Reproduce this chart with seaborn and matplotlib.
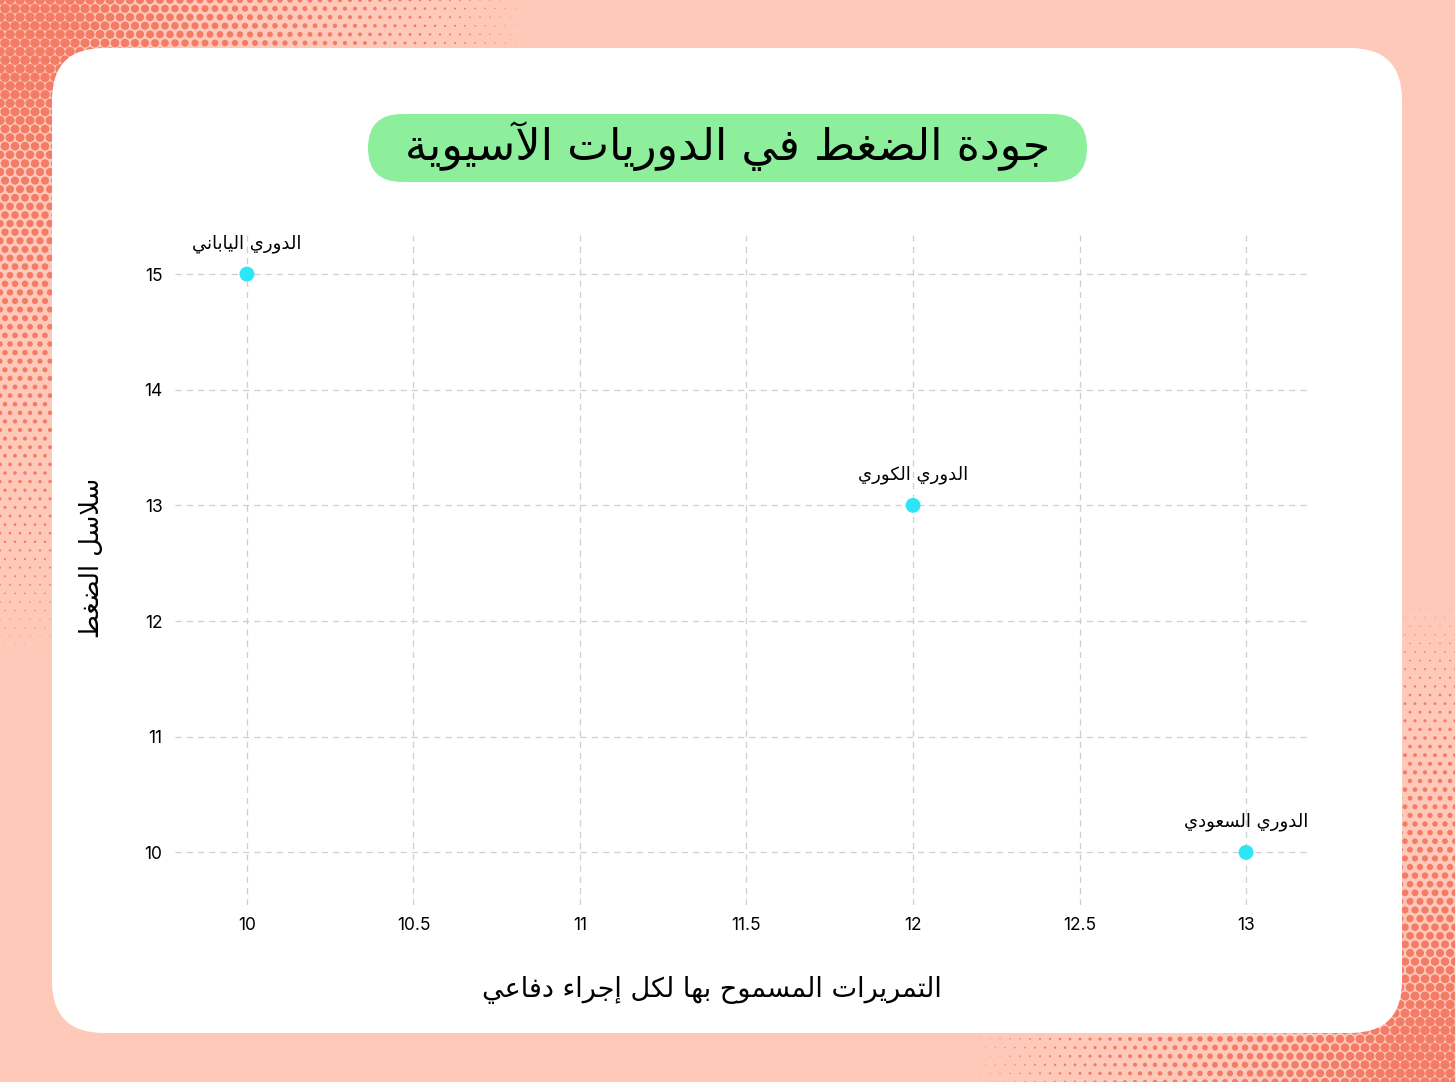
import numpy as np
import pandas as pd
import matplotlib
matplotlib.use("Agg")
import matplotlib.pyplot as plt
import seaborn as sns
from matplotlib.patches import FancyBboxPatch

# ---------------- data ----------------
leagues = ["الدوري الياباني", "الدوري الكوري", "الدوري السعودي"]
passes_allowed = [10, 12, 13]
press_sequences = [15, 13, 10]
x_ticks = [10, 10.5, 11, 11.5, 12, 12.5, 13]
x_tick_labels = ["10", "10.5", "11", "11.5", "12", "12.5", "13"]
y_ticks = [10, 11, 12, 13, 14, 15]
y_tick_labels = ["10", "11", "12", "13", "14", "15"]
title_text = "جودة الضغط في الدوريات الآسيوية"
x_label_text = "التمريرات المسموح بها لكل إجراء دفاعي"
y_label_text = "سلاسل الضغط"

# ---------------- minimal Arabic shaper ----------------
def _forms(start, n):
    return tuple(chr(start + i) for i in range(n))

_TABLE = [('\u0621', 0xFE80, 1), ('\u0622', 0xFE81, 2), ('\u0623', 0xFE83, 2),
          ('\u0624', 0xFE85, 2), ('\u0625', 0xFE87, 2), ('\u0626', 0xFE89, 4),
          ('\u0627', 0xFE8D, 2), ('\u0628', 0xFE8F, 4), ('\u0629', 0xFE93, 2),
          ('\u062A', 0xFE95, 4), ('\u062B', 0xFE99, 4), ('\u062C', 0xFE9D, 4),
          ('\u062D', 0xFEA1, 4), ('\u062E', 0xFEA5, 4), ('\u062F', 0xFEA9, 2),
          ('\u0630', 0xFEAB, 2), ('\u0631', 0xFEAD, 2), ('\u0632', 0xFEAF, 2),
          ('\u0633', 0xFEB1, 4), ('\u0634', 0xFEB5, 4), ('\u0635', 0xFEB9, 4),
          ('\u0636', 0xFEBD, 4), ('\u0637', 0xFEC1, 4), ('\u0638', 0xFEC5, 4),
          ('\u0639', 0xFEC9, 4), ('\u063A', 0xFECD, 4), ('\u0641', 0xFED1, 4),
          ('\u0642', 0xFED5, 4), ('\u0643', 0xFED9, 4), ('\u0644', 0xFEDD, 4),
          ('\u0645', 0xFEE1, 4), ('\u0646', 0xFEE5, 4), ('\u0647', 0xFEE9, 4),
          ('\u0648', 0xFEED, 2), ('\u0649', 0xFEEF, 2), ('\u064A', 0xFEF1, 4)]
FORMS = {c: _forms(s, n) for c, s, n in _TABLE}
LAM_ALEF = {'\u0622': 0xFEF5, '\u0623': 0xFEF7, '\u0625': 0xFEF9, '\u0627': 0xFEFB}


def shape(text):
    units = []
    i = 0
    while i < len(text):
        c = text[i]
        if c == '\u0644' and i + 1 < len(text) and text[i + 1] in LAM_ALEF:
            units.append(_forms(LAM_ALEF[text[i + 1]], 2))
            i += 2
        elif c in FORMS:
            units.append(FORMS[c])
            i += 1
        else:
            units.append(c)
            i += 1
    out = []
    for k, u in enumerate(units):
        if isinstance(u, str):
            out.append(u)
            continue
        prev = units[k - 1] if k > 0 else None
        nxt = units[k + 1] if k + 1 < len(units) else None
        jp = isinstance(prev, tuple) and len(prev) == 4 and len(u) >= 2
        jn = len(u) == 4 and isinstance(nxt, tuple) and len(nxt) >= 2
        if jp and jn:
            f = u[3]
        elif jp:
            f = u[1]
        elif jn:
            f = u[2]
        else:
            f = u[0]
        out.append(f)
    return ''.join(reversed(out))


# ---------------- figure ----------------
sns.set_theme(style="white")
plt.rcParams['font.family'] = ['DejaVu Sans']
AR = ['DejaVu Sans']
NUM = ['Inter', 'DejaVu Sans']

W, H = 1455, 1082
BG = '#FFC9BA'
DOT = '#F47B65'
fig = plt.figure(figsize=(W / 100, H / 100), dpi=100, facecolor=BG)

bg = fig.add_axes([0, 0, 1, 1], zorder=0)
bg.set_xlim(0, W)
bg.set_ylim(H, 0)
bg.axis('off')
bg.set_facecolor(BG)

# halftone corners (decoration): hexagonal lattice, dot size fading with distance
sx, sy = 10.0, 8.6
pts_x, pts_y, pts_s = [], [], []
for cx, cy, Rx, Ry, dmax in [(0, 0, 560, 700, 11.0), (W, H, 510, 510, 11.0)]:
    nr = int(Ry / sy) + 2
    nc = int(Rx / sx) + 2
    for j in range(nr):
        py = cy + (j * sy if cy == 0 else -j * sy)
        off = (sx / 2) if j % 2 else 0.0
        for k in range(nc):
            px = cx + (k * sx + off if cx == 0 else -(k * sx + off))
            r = np.hypot((px - cx) / Rx, (py - cy) / Ry)
            if r > 1:
                continue
            d = min(dmax * (1 - r), 9.6)
            if d < 0.7:
                continue
            pts_x.append(px)
            pts_y.append(py)
            pts_s.append((d * 0.72) ** 2)
bg.scatter(pts_x, pts_y, s=pts_s, color=DOT, linewidths=0, zorder=1)

card = FancyBboxPatch((52, 48), 1350, 985, boxstyle="round,pad=0,rounding_size=52",
                      facecolor='white', edgecolor='none', zorder=2)
bg.add_patch(card)
pill = FancyBboxPatch((368, 114), 719, 68, boxstyle="round,pad=0,rounding_size=34",
                      facecolor='#8DEE9B', edgecolor='none', zorder=3)
bg.add_patch(pill)
bg.text(728, 146, shape(title_text), ha='center', va='center', fontsize=32,
        family=AR, color='black', zorder=4)

# main axes
ax = fig.add_axes([175 / W, 1 - 905 / H, (1308 - 175) / W, (905 - 233) / H], zorder=5)
ax.patch.set_alpha(0)
df = pd.DataFrame({'league': leagues, 'passes': passes_allowed, 'press': press_sequences})
sns.scatterplot(data=df, x='passes', y='press', ax=ax, color='#2DE5F5', s=115,
                edgecolor='none', linewidth=0, zorder=3)
ax.set_xlim(9.784, 13.186)
ax.set_ylim(9.545, 15.355)
ax.set_xticks(x_ticks)
ax.set_xticklabels(x_tick_labels, family=NUM, fontsize=12.5)
ax.set_yticks(y_ticks)
ax.set_yticklabels(y_tick_labels, family=NUM, fontsize=12.5)
ax.tick_params(axis='both', length=0, colors='black')
ax.tick_params(axis='x', pad=9)
ax.tick_params(axis='y', pad=9)
ax.grid(True, linestyle=(0, (5, 4)), color='#CFCFCF', linewidth=0.9)
for sp in ax.spines.values():
    sp.set_visible(False)
ax.set_xlabel('')
ax.set_ylabel('')

for name, xv, yv in zip(df['league'], df['passes'], df['press']):
    ax.annotate(shape(name), (xv, yv), xytext=(0, 22), textcoords='offset points',
                ha='center', va='center', fontsize=13, family=AR, color='black')

fig.text(712 / W, 1 - 990 / H, shape(x_label_text), ha='center', va='center',
         fontsize=19.5, family=AR, color='black')
fig.text(92 / W, 1 - 558 / H, shape(y_label_text), ha='center', va='center',
         fontsize=18.5, family=AR, color='black', rotation=90)

fig.savefig('out.png', dpi=100, facecolor=BG)
